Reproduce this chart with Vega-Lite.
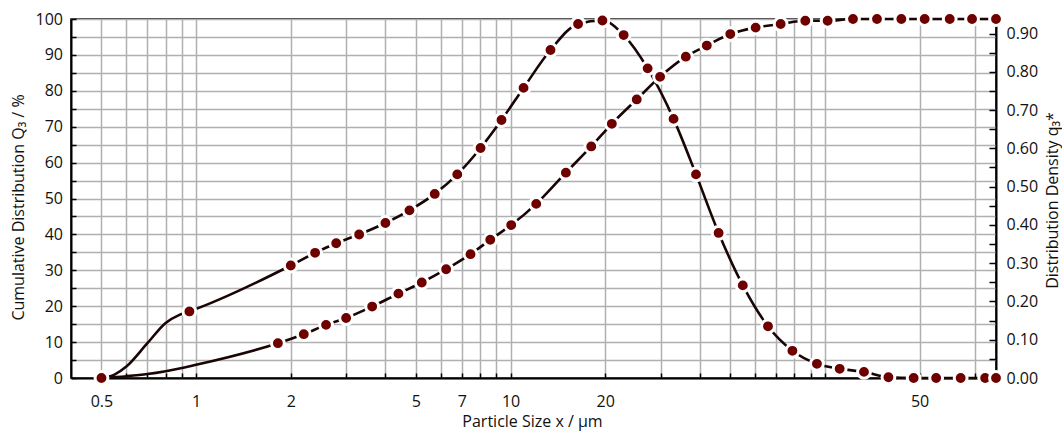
{
  "$schema": "https://vega.github.io/schema/vega-lite/v6.json",
  "width": 925,
  "height": 359,
  "autosize": {"type": "none"},
  "padding": {"left": 71, "top": 19, "right": 66, "bottom": 53},
  "background": "white",
  "config": {
    "font": "Open Sans",
    "view": {"stroke": "black", "strokeWidth": 1.5},
    "axis": {
      "labelFont": "Open Sans",
      "labelFontSize": 16,
      "labelColor": "#111111",
      "titleFont": "Open Sans",
      "titleFontSize": 16,
      "titleFontWeight": "normal",
      "titleColor": "#111111",
      "domainColor": "black",
      "domainWidth": 2,
      "tickColor": "black",
      "tickWidth": 1.5,
      "gridColor": "#b0b0b0",
      "gridWidth": 1.5,
      "labelOverlap": false,
      "labelFlush": false
    }
  },
  "data": {
    "values": [
      {"s": "Q", "x": 0.5, "v": 0, "d": 1},
      {"s": "Q", "x": 0.6, "v": 0.5, "d": 0},
      {"s": "Q", "x": 0.7, "v": 1.1, "d": 0},
      {"s": "Q", "x": 0.8, "v": 1.9, "d": 0},
      {"s": "Q", "x": 1.0, "v": 3.7, "d": 0},
      {"s": "Q", "x": 1.82, "v": 9.7, "d": 1},
      {"s": "Q", "x": 2.2, "v": 12.2, "d": 1},
      {"s": "Q", "x": 2.59, "v": 14.8, "d": 1},
      {"s": "Q", "x": 3.0, "v": 16.7, "d": 1},
      {"s": "Q", "x": 3.63, "v": 19.9, "d": 1},
      {"s": "Q", "x": 4.4, "v": 23.5, "d": 1},
      {"s": "Q", "x": 5.22, "v": 26.6, "d": 1},
      {"s": "Q", "x": 6.24, "v": 30.3, "d": 1},
      {"s": "Q", "x": 7.46, "v": 34.5, "d": 1},
      {"s": "Q", "x": 8.62, "v": 38.5, "d": 1},
      {"s": "Q", "x": 10.05, "v": 42.6, "d": 1},
      {"s": "Q", "x": 12.07, "v": 48.5, "d": 1},
      {"s": "Q", "x": 15.0, "v": 57.2, "d": 1},
      {"s": "Q", "x": 18.06, "v": 64.5, "d": 1},
      {"s": "Q", "x": 21.0, "v": 70.8, "d": 1},
      {"s": "Q", "x": 25.2, "v": 77.6, "d": 1},
      {"s": "Q", "x": 29.9, "v": 83.9, "d": 1},
      {"s": "Q", "x": 36.1, "v": 89.5, "d": 1},
      {"s": "Q", "x": 42.1, "v": 92.6, "d": 1},
      {"s": "Q", "x": 50.0, "v": 95.8, "d": 1},
      {"s": "Q", "x": 60.2, "v": 97.6, "d": 1},
      {"s": "Q", "x": 72.3, "v": 98.6, "d": 1},
      {"s": "Q", "x": 86.6, "v": 99.5, "d": 1},
      {"s": "Q", "x": 102, "v": 99.5, "d": 1},
      {"s": "Q", "x": 122.8, "v": 100, "d": 1},
      {"s": "Q", "x": 146.4, "v": 100, "d": 1},
      {"s": "Q", "x": 175, "v": 100, "d": 1},
      {"s": "Q", "x": 207.6, "v": 100, "d": 1},
      {"s": "Q", "x": 249.4, "v": 100, "d": 1},
      {"s": "Q", "x": 293.7, "v": 100, "d": 1},
      {"s": "Q", "x": 350, "v": 100, "d": 1},
      {"s": "q", "x": 0.5, "v": 0, "d": 0},
      {"s": "q", "x": 0.55, "v": 0.009, "d": 0},
      {"s": "q", "x": 0.6, "v": 0.03, "d": 0},
      {"s": "q", "x": 0.7, "v": 0.091, "d": 0},
      {"s": "q", "x": 0.8, "v": 0.144, "d": 0},
      {"s": "q", "x": 0.885, "v": 0.165, "d": 0},
      {"s": "q", "x": 0.952, "v": 0.174, "d": 1},
      {"s": "q", "x": 2.0, "v": 0.294, "d": 1},
      {"s": "q", "x": 2.39, "v": 0.327, "d": 1},
      {"s": "q", "x": 2.79, "v": 0.352, "d": 1},
      {"s": "q", "x": 3.3, "v": 0.375, "d": 1},
      {"s": "q", "x": 4.0, "v": 0.405, "d": 1},
      {"s": "q", "x": 4.77, "v": 0.438, "d": 1},
      {"s": "q", "x": 5.74, "v": 0.481, "d": 1},
      {"s": "q", "x": 6.77, "v": 0.532, "d": 1},
      {"s": "q", "x": 8.03, "v": 0.601, "d": 1},
      {"s": "q", "x": 9.36, "v": 0.674, "d": 1},
      {"s": "q", "x": 11.0, "v": 0.758, "d": 1},
      {"s": "q", "x": 13.4, "v": 0.857, "d": 1},
      {"s": "q", "x": 16.4, "v": 0.925, "d": 1},
      {"s": "q", "x": 19.6, "v": 0.934, "d": 1},
      {"s": "q", "x": 22.9, "v": 0.896, "d": 1},
      {"s": "q", "x": 27.3, "v": 0.809, "d": 1},
      {"s": "q", "x": 33.0, "v": 0.677, "d": 1},
      {"s": "q", "x": 38.9, "v": 0.532, "d": 1},
      {"s": "q", "x": 45.9, "v": 0.379, "d": 1},
      {"s": "q", "x": 54.8, "v": 0.242, "d": 1},
      {"s": "q", "x": 65.9, "v": 0.135, "d": 1},
      {"s": "q", "x": 78.8, "v": 0.071, "d": 1},
      {"s": "q", "x": 94.3, "v": 0.037, "d": 1},
      {"s": "q", "x": 111.4, "v": 0.024, "d": 1},
      {"s": "q", "x": 133.1, "v": 0.016, "d": 1},
      {"s": "q", "x": 159.2, "v": 0.002, "d": 1},
      {"s": "q", "x": 191.5, "v": 0, "d": 1},
      {"s": "q", "x": 225.8, "v": 0, "d": 1},
      {"s": "q", "x": 270.2, "v": 0, "d": 1},
      {"s": "q", "x": 323.3, "v": 0, "d": 1},
      {"s": "q", "x": 350, "v": 0, "d": 1}
    ]
  },
  "encoding": {
    "x": {
      "field": "x",
      "type": "quantitative",
      "scale": {"type": "log", "domain": [0.4, 350], "nice": false},
      "axis": {
        "values": [0.5, 0.6, 0.7, 0.8, 0.9, 1, 2, 3, 4, 5, 6, 7, 8, 9, 10, 20, 30, 40, 50, 60, 70, 80, 90, 100, 200, 300],
        "labelExpr": "datum.value == 200 ? '50' : (indexof([0.5, 1, 2, 5, 7, 10, 20], datum.value) >= 0 ? format(datum.value, '~g') : '')",
        "tickSize": -5,
        "labelPadding": 20,
        "grid": true,
        "title": "Particle Size x / µm",
        "titleX": 461,
        "titleY": 43,
        "titleBaseline": "middle"
      }
    }
  },
  "layer": [
    {
      "transform": [{"filter": "datum.s == 'Q'"}],
      "mark": {"type": "line", "interpolate": "monotone", "color": "#1a0505", "strokeWidth": 2.6},
      "encoding": {
        "y": {
          "field": "v",
          "type": "quantitative",
          "scale": {"domain": [0, 100], "nice": false},
          "axis": {
            "orient": "left",
            "values": [0, 5, 10, 15, 20, 25, 30, 35, 40, 45, 50, 55, 60, 65, 70, 75, 80, 85, 90, 95, 100],
            "labelExpr": "datum.value % 10 == 0 ? datum.label : ''",
            "tickSize": -5,
            "labelPadding": 13.5,
            "grid": true,
            "title": "Cumulative Distribution Q₃ / %",
            "titleX": -53,
            "titleY": 188,
            "titleAngle": -90,
            "titleAlign": "center",
            "titleBaseline": "middle"
          }
        }
      }
    },
    {
      "transform": [{"filter": "datum.s == 'q'"}],
      "mark": {"type": "line", "interpolate": "monotone", "color": "#1a0505", "strokeWidth": 2.6},
      "encoding": {
        "y": {
          "field": "v",
          "type": "quantitative",
          "scale": {"domain": [0, 0.938], "nice": false},
          "axis": {
            "orient": "right",
            "values": [0, 0.05, 0.1, 0.15, 0.2, 0.25, 0.3, 0.35, 0.4, 0.45, 0.5, 0.55, 0.6, 0.65, 0.7, 0.75, 0.8, 0.85, 0.9],
            "labelExpr": "round(datum.value * 100) % 10 == 0 ? format(datum.value, '.2f') : ''",
            "tickSize": -7,
            "labelPadding": 17,
            "grid": false,
            "title": "Distribution Density q₃*",
            "titleX": 56,
            "titleY": 181,
            "titleAngle": -90,
            "titleAlign": "center",
            "titleBaseline": "middle"
          }
        }
      }
    },
    {
      "transform": [{"filter": "datum.s == 'Q' && datum.d == 1"}],
      "mark": {"type": "circle", "size": 165, "color": "#6e0000", "opacity": 1, "stroke": "white", "strokeWidth": 3},
      "encoding": {
        "y": {"field": "v", "type": "quantitative", "scale": {"domain": [0, 100], "nice": false}, "axis": null}
      }
    },
    {
      "transform": [{"filter": "datum.s == 'q' && datum.d == 1"}],
      "mark": {"type": "circle", "size": 165, "color": "#6e0000", "opacity": 1, "stroke": "white", "strokeWidth": 3},
      "encoding": {
        "y": {"field": "v", "type": "quantitative", "scale": {"domain": [0, 0.938], "nice": false}, "axis": null}
      }
    }
  ],
  "resolve": {"scale": {"y": "independent"}}
}
